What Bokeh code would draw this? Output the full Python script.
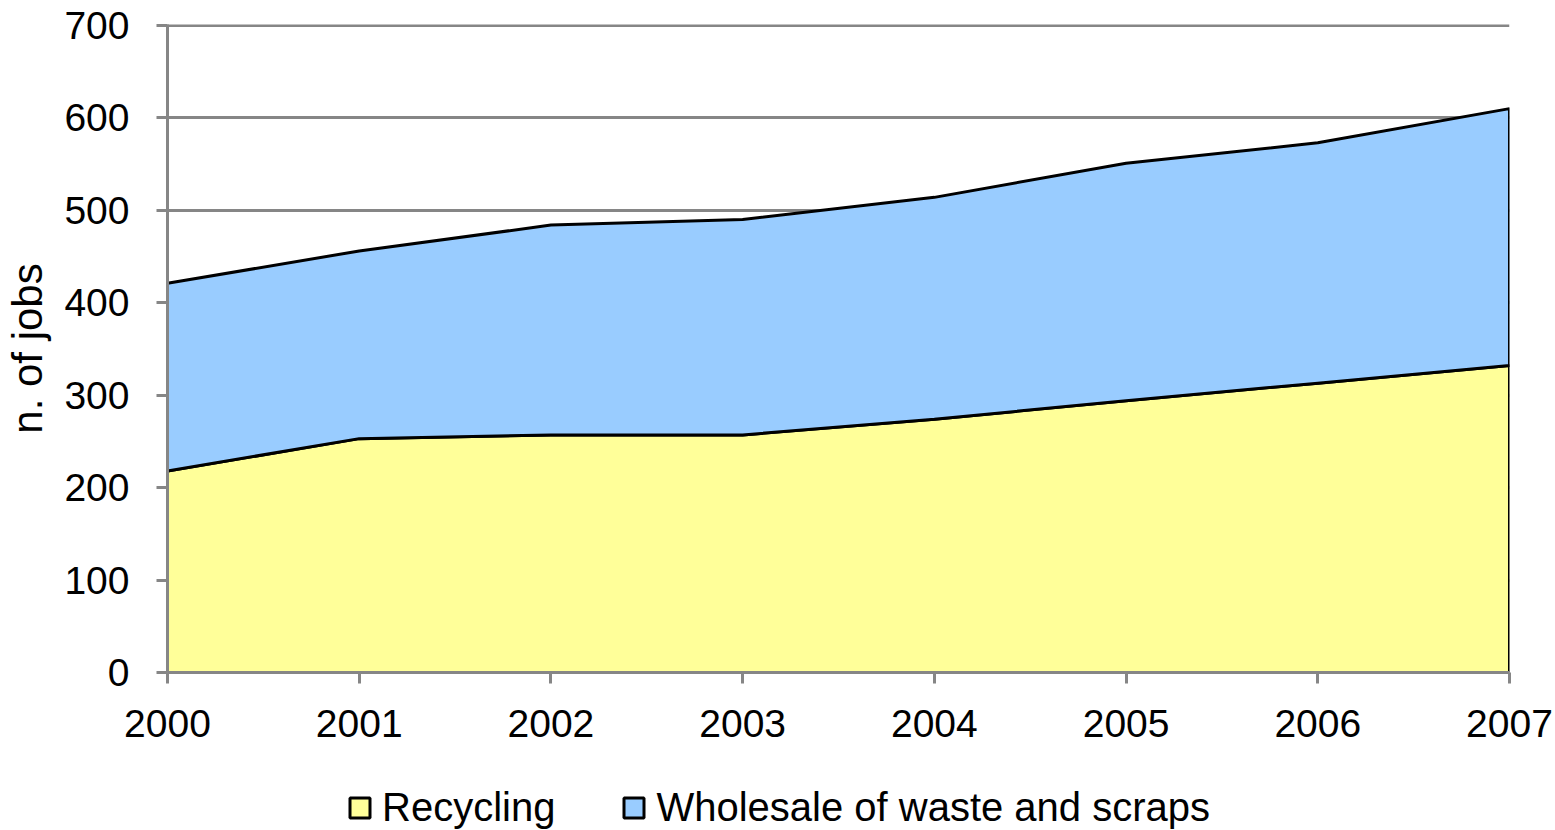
from bokeh.plotting import figure
from bokeh.layouts import column
from bokeh.models import Range1d, FixedTicker, Legend, LegendItem
from bokeh.embed import file_html
from bokeh.resources import INLINE

# Jobs per year, by sector
years = [2000, 2001, 2002, 2003, 2004, 2005, 2006, 2007]
recycling = [218, 253, 257, 257, 274, 294, 313, 332]
wholesale = [203, 203, 227, 233, 240, 257, 260, 278]
y_ticks = [0, 100, 200, 300, 400, 500, 600, 700]

series_names = ["Recycling", "Wholesale of waste and scraps"]
fill_colors = ["#FFFF99", "#99CCFF"]

FONT = "Liberation Sans"
GREY = "#868686"

p = figure(width=1555, height=760, output_backend="svg", toolbar_location=None,
           x_range=Range1d(2000, 2007), y_range=Range1d(0, 701),
           min_border_left=167, min_border_right=46, min_border_top=24,
           min_border_bottom=88)
p.outline_line_color = None
p.background_fill_color = "white"

# stacked areas: recycling at the bottom, wholesale on top of it
top = [r + w for r, w in zip(recycling, wholesale)]
base = [0] * len(years)

p.patch(x=years + years[::-1], y=recycling + base[::-1],
        fill_color=fill_colors[0], line_color="black", line_width=3)
p.patch(x=years + years[::-1], y=top + recycling[::-1],
        fill_color=fill_colors[1], line_color="black", line_width=3)

# axes
p.xaxis.ticker = FixedTicker(ticks=years)
p.yaxis.ticker = FixedTicker(ticks=y_ticks)
for ax in (p.xaxis[0], p.yaxis[0]):
    ax.axis_line_color = GREY
    ax.axis_line_width = 3
    ax.major_tick_line_color = GREY
    ax.major_tick_line_width = 3
    ax.major_tick_in = 0
    ax.major_tick_out = 11
    ax.minor_tick_line_color = None
    ax.major_label_text_font = FONT
    ax.major_label_text_font_size = "39px"
    ax.major_label_text_color = "black"
p.xaxis.major_label_standoff = 26
p.yaxis.major_label_standoff = 27
p.yaxis.axis_label = "n. of jobs"
p.yaxis.axis_label_text_font = FONT
p.yaxis.axis_label_text_font_size = "42px"
p.yaxis.axis_label_text_font_style = "normal"
p.yaxis.axis_label_text_color = "black"
p.yaxis.axis_label_standoff = 10

# grid
p.xgrid.grid_line_color = None
p.ygrid.grid_line_color = GREY
p.ygrid.grid_line_width = 3

# legend strip underneath the chart; the key patches sit outside its view
leg = figure(width=1555, height=70, output_backend="svg", toolbar_location=None,
             x_range=Range1d(0, 1), y_range=Range1d(0, 1), min_border=0)
leg.axis.visible = False
leg.grid.visible = False
leg.outline_line_color = None
key_rec = leg.patch(x=[5, 6, 6], y=[5, 5, 6], fill_color=fill_colors[0],
                    line_color="black", line_width=3)
key_whl = leg.patch(x=[5, 6, 6], y=[5, 5, 6], fill_color=fill_colors[1],
                    line_color="black", line_width=3)
legend = Legend(items=[LegendItem(label=series_names[0], renderers=[key_rec]),
                       LegendItem(label=series_names[1], renderers=[key_whl])],
                location=(180, 0), orientation="horizontal",
                label_text_font=FONT, label_text_font_size="40px",
                label_text_color="black",
                label_standoff=10, glyph_width=25, glyph_height=25,
                spacing=66, padding=0, margin=0,
                border_line_color=None, background_fill_alpha=0)
leg.add_layout(legend, "center")

layout = column(p, leg, spacing=0)
open("out.html", "w").write(file_html(layout, INLINE))
